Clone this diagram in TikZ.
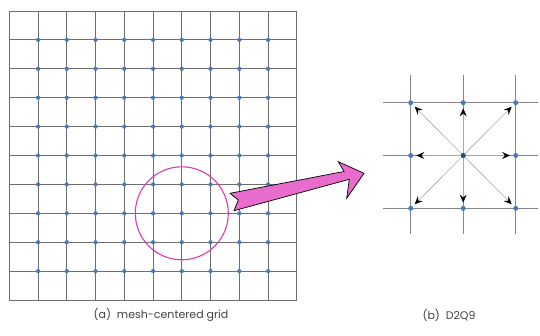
\documentclass[tikz,border=0pt]{standalone}
\usepackage{fontspec}
\setmainfont{Poppins}
\usepackage{tikz}
\usetikzlibrary{arrows.meta,positioning,calc}
\definecolor{gridline}{HTML}{6E6E6E}
\definecolor{stencilline}{HTML}{858585}
\definecolor{lightline}{HTML}{A8A8A8}
\definecolor{dotblue}{HTML}{4A78BE}
\definecolor{dotnavy}{HTML}{2B4C80}
\definecolor{ringpink}{HTML}{D63AB8}
\definecolor{arrowpink}{HTML}{E86CCB}
\definecolor{captiongray}{HTML}{444444}

\begin{document}
\begin{tikzpicture}[x=1pt,y=-1pt,
    dot/.style={circle, fill=dotblue, inner sep=0pt, minimum size=4.2pt},
    velo/.style={-{Stealth[length=8pt,width=7pt,inset=3pt,black]}, lightline, line width=0.6pt, shorten >=3pt},
    caption/.style={font=\fontsize{11}{13}\selectfont, captiongray}]
  \useasboundingbox (0,0) rectangle (540,336);

  % Mesh-centered grid
  \foreach \i in {0,...,10} {
    \draw[gridline, line width=0.8pt] ({9.3+28.75*\i},11) -- ({9.3+28.75*\i},300);
    \draw[gridline, line width=0.8pt] (9.3,{11+28.9*\i}) -- (296.8,{11+28.9*\i});
  }
  \foreach \i in {1,...,9}
    \foreach \j in {1,...,9}
      \node[dot] (m\i\j) at ({9.3+28.75*\i},{11+28.9*\j}) {};

  % Zoomed region
  \draw[ringpink, line width=1.1pt] (m67) circle (46.5);

  % Pointer arrow
  \draw[black, line width=0.7pt, fill=arrowpink, line join=miter]
    (230,193.3) -- (344,171.5) -- (338.3,161.7) -- (364,173.3)
    -- (346.7,198.3) -- (349.3,179.3) -- (234,210.7) -- (238.3,200) -- cycle;

  % D2Q9 stencil
  \foreach \i in {0,1,2} {
    \draw[stencilline, line width=1pt] ({410.7+52.5*\i},75) -- ({410.7+52.5*\i},234);
    \draw[stencilline, line width=1pt] (383.3,{102.7+52.8*\i}) -- (538.3,{102.7+52.8*\i});
  }
  \foreach \i in {0,1,2}
    \foreach \j in {0,1,2}
      \node[dot, minimum size=5pt] (q\i\j) at ({410.7+52.5*\i},{102.7+52.8*\j}) {};
  \foreach \t in {q00,q10,q20,q01,q21,q02,q12,q22}
    \draw[velo] (q11.center) -- (\t);
  \node[dot, fill=dotnavy, minimum size=5pt] (q11c) at (q11) {};

  % Captions
  \node[caption] (capa) at (161,315) {(a)\ \ mesh-centered grid};
  \node[caption] (capb) at (449,315) {(b)\ \ D2Q9};
\end{tikzpicture}
\end{document}
